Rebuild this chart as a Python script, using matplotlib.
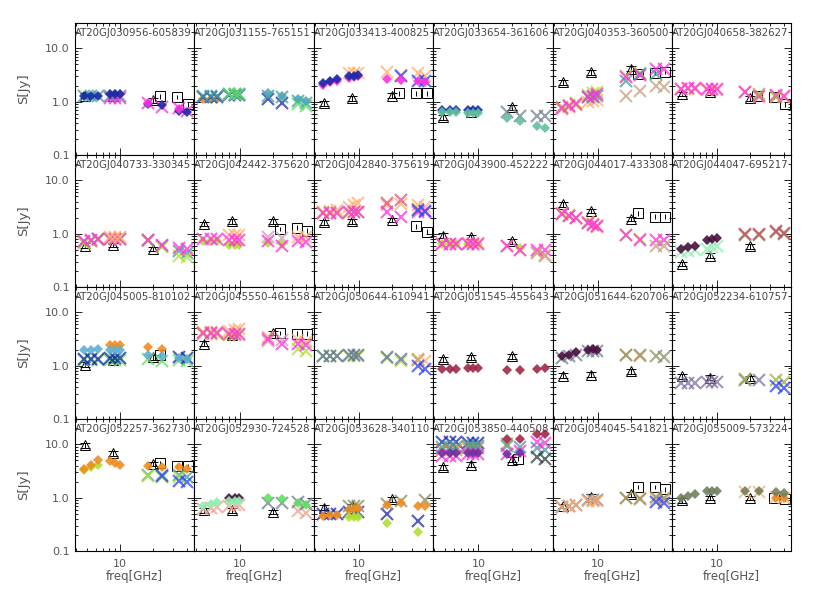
import numpy as np
import matplotlib
matplotlib.use('Agg')
import matplotlib.pyplot as plt
from matplotlib.ticker import NullFormatter

N = None

# ---------------------------------------------------------------
# frequencies (GHz)
# ---------------------------------------------------------------
freq = [4.7, 5.5, 6.3, 8.1, 9.0, 9.9, 18, 24, 34, 40]   # ATCA monitoring
freq_at20g = [4.8, 8.6, 20]                             # AT20G (triangles)
freq_wmap = [23, 33, 41]                                # WMAP (squares)

names = [
    'AT20GJ030956-605839', 'AT20GJ031155-765151', 'AT20GJ033413-400825',
    'AT20GJ033654-361606', 'AT20GJ040353-360500', 'AT20GJ040658-382627',
    'AT20GJ040733-330345', 'AT20GJ042442-375620', 'AT20GJ042840-375619',
    'AT20GJ043900-452222', 'AT20GJ044017-433308', 'AT20GJ044047-695217',
    'AT20GJ045005-810102', 'AT20GJ045550-461558', 'AT20GJ050644-610941',
    'AT20GJ051545-455643', 'AT20GJ051644-620706', 'AT20GJ052234-610757',
    'AT20GJ052257-362730', 'AT20GJ052930-724528', 'AT20GJ053628-340110',
    'AT20GJ053850-440508', 'AT20GJ054045-541821', 'AT20GJ055009-573224',
]

# AT20G flux densities at 4.8, 8.6, 20 GHz (Jy)
tri_flux = [
    [1.3, 1.3, 1.07], None, [0.94, 1.15, 1.3],
    [0.51, 0.65, 0.78], [2.3, 3.55, 4.2], [1.4, 1.5, 1.15],
    [0.6, 0.62, 0.52], [1.54, 1.7, 1.7], [1.63, 1.7, 1.83],
    [0.92, 0.87, 0.72], [3.6, 2.7, 1.9], [0.27, 0.39, 0.58],
    [1.05, 1.3, 1.45], [2.6, 3.7, 4.1], None,
    [1.33, 1.45, 1.5], [0.65, 0.68, 0.78], [0.63, 0.6, 0.58],
    [9.6, 6.8, 4.3], [0.58, 0.58, 0.54], [0.65, 0.7, 0.93],
    [3.7, 4.2, 5.2], [0.7, 1.05, 1.15], [0.9, 1.0, 1.0],
]

# WMAP flux densities at 23, 33, 41 GHz (Jy)
sq_flux = [
    [1.26, 1.24, 0.9], None, [1.43, 1.43, 1.43],
    None, [3.3, 3.5, 3.65], [1.3, 1.25, 0.9],
    None, [1.24, 1.3, 1.14], [N, 1.37, 1.1],
    None, [2.43, 2.1, 2.1], None,
    [1.6, N, N], [4.1, 4.0, 4.0], None,
    None, None, None,
    [4.5, 3.95, 3.95], None, None,
    [5.4, N, N], [1.6, 1.6, 1.45], [N, 0.97, 0.95],
]

# colour keys
pal = {
    'navy': '#1a2aa8', 'blue': '#2a40ff', 'mag': '#ff30e0', 'teal': '#40a0a0',
    'sky': '#60b0d0', 'lime': '#b0e030', 'green': '#60e060', 'orange': '#f08c20',
    'lorange': '#ffb070', 'tan': '#c8a080', 'gray': '#708090', 'olive': '#8a9060',
    'crimson': '#a02848', 'purple': '#4a1040', 'mint': '#90f0b0', 'salmon': '#f0a090',
    'rose': '#e05080', 'sea': '#60c0a0', 'slate': '#6070a0', 'dark': '#304040',
    'violet': '#7030a0', 'ogray': '#708060', 'pinkgray': '#d0a0b0', 'redrose': '#c05060',
    'tblue': '#50a8b8', 'olime': '#a0b040', 'gpurple': '#8070a0',
}

# ATCA monitoring: (marker, colour key, flux at freq)
series = [
    [('x', 'teal', [1.3, 1.3, 1.3, 1.3, 1.3, 1.3, N, N, N, N]),
     ('x', 'mag', [N, N, N, 1.15, 1.15, 1.15, 0.93, 0.78, 0.75, 0.67]),
     ('D', 'navy', [1.3, 1.3, 1.3, 1.38, 1.38, 1.38, 0.9, 0.87, 0.68, 0.63]),
     ('D', 'mag', [N, N, N, N, N, N, 0.95, N, 0.73, N])],
    [('D', 'orange', [1.12, 1.12, 1.12, N, N, N, N, N, N, N]),
     ('x', 'navy', [1.25, 1.25, 1.25, 1.35, 1.35, 1.35, 1.12, 0.95, N, N]),
     ('x', 'teal', [1.28, 1.28, 1.28, 1.42, 1.42, 1.42, 1.3, 1.2, 1.05, 0.95]),
     ('x', 'green', [N, N, N, 1.38, 1.38, 1.38, N, N, 0.9, 0.82]),
     ('D', 'tblue', [N, N, N, N, N, N, 1.45, 1.3, 1.12, 1.05])],
    [('x', 'lorange', [N, N, N, 3.4, 3.4, 3.4, 3.65, 3.15, 3.45, 3.07]),
     ('x', 'blue', [N, N, N, N, N, N, N, 3.07, 2.5, 2.5]),
     ('D', 'mag', [2.1, 2.3, 2.5, 2.8, 2.9, 3.0, 2.66, 2.55, 2.5, 2.3]),
     ('D', 'navy', [2.24, 2.45, 2.66, 2.98, 3.1, 3.2, N, N, N, N])],
    [('x', 'gray', [N, N, N, N, N, N, 0.63, 0.55, 0.55, 0.55]),
     ('D', 'navy', [0.7, 0.7, 0.7, 0.7, 0.7, 0.7, N, N, N, N]),
     ('D', 'sea', [0.63, 0.63, 0.63, 0.61, 0.61, 0.61, 0.49, 0.43, 0.355, 0.32])],
    [('x', 'lorange', [0.72, 0.78, 0.85, 1.0, 1.05, 1.1, N, N, N, N]),
     ('x', 'lime', [0.8, 0.88, 0.95, 1.35, 1.45, 1.55, 3.1, 3.4, N, N]),
     ('x', 'tan', [N, N, N, N, N, N, 1.3, 1.6, 1.95, 1.9]),
     ('x', 'teal', [N, N, N, 1.2, 1.25, 1.3, 2.47, 3.3, 3.3, N]),
     ('x', 'mag', [0.76, 0.83, 0.9, 1.2, 1.3, 1.4, 2.86, 3.15, 4.2, 4.2])],
    [('x', 'lorange', [1.7, 1.72, 1.75, 1.65, 1.65, 1.65, 1.5, 1.25, 1.3, 1.25]),
     ('x', 'mag', [1.75, 1.78, 1.8, 1.73, 1.73, 1.73, 1.54, 1.3, 1.33, 1.3]),
     ('x', 'olime', [N, N, N, N, N, N, N, 1.4, 1.2, N])],
    [('x', 'teal', [0.7, 0.74, 0.78, 0.78, 0.78, 0.78, 0.75, 0.6, 0.47, 0.43]),
     ('x', 'lime', [0.68, 0.72, 0.76, 0.8, 0.8, 0.8, 0.73, 0.57, 0.38, 0.37]),
     ('x', 'mag', [0.72, 0.76, 0.79, 0.79, 0.79, 0.79, 0.77, 0.62, 0.55, 0.52]),
     ('x', 'lorange', [N, N, N, 0.88, 0.88, 0.88, N, N, N, N])],
    [('D', 'lime', [0.72, 0.72, 0.72, 0.62, 0.62, 0.62, 0.67, 0.64, N, N]),
     ('x', 'lorange', [N, N, N, 0.96, 0.96, 0.96, N, N, 0.87, 0.85]),
     ('x', 'pinkgray', [N, N, N, N, N, N, 0.87, 0.83, N, N]),
     ('x', 'mag', [0.79, 0.79, 0.79, 0.75, 0.75, 0.75, 0.72, 0.58, 0.72, 0.7])],
    [('x', 'lorange', [2.6, 2.7, 2.8, 3.2, 3.5, 3.8, 3.5, 3.6, 3.5, 3.2]),
     ('x', 'lime', [2.4, 2.45, 2.5, 2.5, 2.55, 2.6, N, N, 2.9, N]),
     ('x', 'rose', [N, N, N, N, N, N, 3.8, 4.3, N, N]),
     ('x', 'mag', [2.5, 2.5, 2.5, 2.6, 2.6, 2.6, 2.6, 2.1, 2.6, 2.6]),
     ('x', 'blue', [N, N, N, N, N, N, N, N, 2.8, 2.7])],
    [('D', 'lime', [0.64, 0.64, 0.64, 0.64, 0.64, 0.64, N, 0.55, N, N]),
     ('x', 'lorange', [0.65, 0.65, 0.65, 0.66, 0.66, 0.66, 0.58, 0.5, 0.45, 0.4]),
     ('x', 'mag', [0.64, 0.64, 0.64, 0.64, 0.64, 0.64, 0.6, 0.5, 0.5, 0.5]),
     ('x', 'tan', [N, N, N, N, N, N, N, N, 0.43, 0.39])],
    [('x', 'lime', [2.4, 2.2, 2.0, 1.6, 1.5, 1.4, 0.95, 0.8, N, N]),
     ('x', 'lorange', [2.3, 2.15, 1.95, 1.65, 1.5, 1.35, N, N, N, N]),
     ('x', 'mag', [2.34, 2.15, 1.97, 1.58, 1.47, 1.37, 0.93, 0.77, 0.77, 0.75]),
     ('x', 'tan', [N, N, N, N, N, N, N, N, 0.6, 0.58])],
    [('x', 'mint', [0.46, 0.48, 0.5, 0.52, 0.56, 0.6, N, N, N, N]),
     ('D', 'purple', [0.52, 0.56, 0.6, 0.75, 0.79, 0.83, N, N, N, N]),
     ('x', 'olive', [N, N, N, N, N, N, 0.93, 0.93, 1.06, 1.0]),
     ('x', 'redrose', [N, N, N, N, N, N, 0.98, 0.98, 1.12, 1.05])],
    [('x', 'green', [1.3, 1.3, 1.3, 1.3, 1.3, 1.3, 1.33, 1.25, 1.3, 1.25]),
     ('x', 'navy', [1.35, 1.35, 1.35, 1.4, 1.4, 1.4, N, N, 1.45, 1.4]),
     ('D', 'orange', [N, N, N, 2.5, 2.5, 2.5, 2.2, 2.05, N, N]),
     ('D', 'sky', [2.0, 2.0, 2.05, 2.0, 2.0, 2.0, 1.6, 1.55, 1.4, 1.35])],
    [('x', 'lorange', [4.3, 4.3, 4.3, 4.4, 4.6, 4.9, 3.5, N, 3.0, 2.8]),
     ('x', 'pinkgray', [N, N, N, N, N, N, 2.9, 3.0, N, N]),
     ('x', 'lime', [4.0, 4.0, 4.0, 3.8, 3.8, 3.8, N, N, 2.1, 1.9]),
     ('x', 'mag', [4.1, 4.1, 4.1, 4.0, 4.0, 4.0, 3.2, 2.6, 2.6, 2.4])],
    [('x', 'lime', [1.5, 1.5, 1.5, 1.55, 1.55, 1.55, 1.42, 1.25, 1.35, N]),
     ('x', 'slate', [1.5, 1.5, 1.5, 1.6, 1.6, 1.6, 1.45, 1.33, 1.3, N]),
     ('x', 'lorange', [N, N, N, N, N, N, N, N, 1.3, 1.2]),
     ('x', 'blue', [N, N, N, N, N, N, N, N, 1.0, 0.87])],
    [('D', 'crimson', [0.87, 0.87, 0.87, 0.9, 0.9, 0.9, 0.82, 0.84, 0.87, 0.9])],
    [('x', 'gray', [1.4, 1.5, 1.6, 1.85, 1.85, 1.85, N, N, N, N]),
     ('x', 'lorange', [N, N, N, N, N, N, 1.6, 1.5, N, N]),
     ('x', 'olive', [N, N, N, N, N, N, 1.6, 1.56, 1.5, 1.45]),
     ('D', 'purple', [1.5, 1.62, 1.78, 2.0, 2.05, 2.0, N, N, N, N])],
    [('x', 'gpurple', [0.48, 0.48, 0.48, 0.5, 0.5, 0.5, 0.55, 0.53, N, N]),
     ('x', 'olime', [N, N, N, N, N, N, 0.56, N, 0.53, 0.5]),
     ('x', 'blue', [N, N, N, N, N, N, N, N, 0.41, 0.38])],
    [('x', 'teal', [N, N, N, N, N, N, 2.65, 2.7, 2.65, 2.5]),
     ('x', 'lime', [N, N, N, N, N, N, 2.6, 2.5, 2.5, N]),
     ('x', 'blue', [N, N, N, N, N, N, N, 2.6, 2.1, 2.0]),
     ('D', 'lime', [3.3, 3.7, 4.2, N, N, N, N, N, N, N]),
     ('D', 'orange', [3.5, 4.2, 5.0, 4.9, 4.5, 4.1, 3.9, 3.8, 3.7, 3.5])],
    [('x', 'salmon', [0.62, 0.65, 0.68, 0.7, 0.72, 0.72, N, N, 0.56, 0.52]),
     ('x', 'gray', [N, N, N, N, N, N, 0.8, 0.8, 0.82, 0.76]),
     ('D', 'purple', [N, N, N, 0.97, 0.97, 0.97, N, N, N, N]),
     ('D', 'mint', [0.7, 0.76, 0.83, 0.87, 0.88, 0.88, N, N, N, N]),
     ('D', 'green', [N, N, N, N, N, N, 0.97, 0.93, 0.78, 0.72])],
    [('x', 'navy', [0.5, 0.5, 0.5, 0.55, 0.55, 0.55, 0.5, N, 0.37, N]),
     ('x', 'olive', [N, N, N, 0.7, 0.7, 0.7, 0.75, 0.87, N, 0.9]),
     ('D', 'orange', [0.45, 0.47, 0.48, 0.6, 0.62, 0.64, 0.72, 0.8, 0.7, 0.7]),
     ('D', 'lime', [N, N, N, 0.44, 0.44, 0.44, 0.34, N, 0.23, N])],
    [('x', 'navy', [11, 11, 11, 10.5, 10.5, 10.5, N, N, N, N]),
     ('x', 'orange', [8.0, 8.0, 8.0, 8.5, 8.5, 8.5, 10, N, N, N]),
     ('x', 'teal', [9.0, 9.0, 9.0, 9.2, 9.2, 9.2, 9.2, 9.0, 8.4, 8.0]),
     ('x', 'mag', [6.0, 6.0, 6.0, 6.5, 6.5, 6.5, 6.5, 7.5, 11, 10.5]),
     ('x', 'dark', [N, N, N, N, N, N, N, N, 5.8, 5.3]),
     ('D', 'violet', [6.8, 6.8, 6.8, 7.0, 7.0, 7.0, 6.5, 6.8, N, N]),
     ('D', 'crimson', [N, N, N, N, N, N, 12.6, 12.6, 15.5, 15.5])],
    [('x', 'slate', [0.66, 0.7, 0.72, 0.9, 0.9, 0.9, N, N, N, N]),
     ('x', 'lorange', [0.68, 0.7, 0.72, 0.88, 0.88, 0.88, 0.97, 0.97, 0.93, 0.92]),
     ('x', 'olive', [N, N, N, N, N, N, 0.97, 0.95, 1.05, 0.97]),
     ('x', 'blue', [N, N, N, N, N, N, N, N, 0.83, 0.8])],
    [('x', 'lorange', [N, N, N, N, N, N, 1.3, 1.3, 1.05, 1.0]),
     ('D', 'orange', [N, N, N, N, N, N, N, N, 1.0, 0.97]),
     ('D', 'ogray', [1.0, 1.08, 1.17, 1.33, 1.33, 1.33, 1.33, 1.33, 1.28, 1.23])],
]

# ---------------------------------------------------------------
# figure layout (pixel based, 814 x 599)
# ---------------------------------------------------------------
W, H = 814, 599
left, top, pw, ph = 75, 23, 119.4, 132
txt = '#555555'

fig = plt.figure(figsize=(W / 100, H / 100), dpi=100)

for i, name in enumerate(names):
    r, c = divmod(i, 6)
    ax = fig.add_axes([(left + c * pw) / W, 1 - (top + (r + 1) * ph) / H, pw / W, ph / H])
    ax.set_xscale('log')
    ax.set_yscale('log')
    ax.set_xlim(3.9, 47)
    ax.set_ylim(0.1, 30)

    # AT20G triangles and WMAP squares
    if tri_flux[i] is not None:
        t = np.array(tri_flux[i], dtype=float)
        ax.errorbar(freq_at20g, t, yerr=0.1 * t, fmt='^', mfc='none', mec='k', ecolor='k',
                    ms=7, mew=0.7, elinewidth=0.7, capsize=3.5, capthick=0.7, zorder=2)
    if sq_flux[i] is not None:
        s = np.array(sq_flux[i], dtype=float)
        ax.errorbar(freq_wmap, s, yerr=0.1 * s, fmt='s', mfc='none', mec='k', ecolor='k',
                    ms=6.5, mew=0.7, elinewidth=0.7, zorder=2)

    # ATCA monitoring epochs
    for mk, ck, vals in series[i]:
        v = np.array(vals, dtype=float)
        if mk == 'x':
            ax.plot(freq, v, ls='none', marker='x', color=pal[ck], ms=8, mew=1.5,
                    alpha=0.75, zorder=3)
        else:
            ax.plot(freq, v, ls='none', marker='D', color=pal[ck], ms=5.5, mew=0,
                    alpha=0.9, zorder=3)

    # ticks
    ax.set_xticks([10])
    ax.set_xticks([4, 5, 6, 7, 8, 9, 20, 30, 40], minor=True)
    ax.set_yticks([0.1, 1, 10])
    ax.set_yticks([k * d for d in (0.1, 1, 10) for k in range(2, 10) if k * d < 30], minor=True)
    ax.xaxis.set_minor_formatter(NullFormatter())
    ax.yaxis.set_minor_formatter(NullFormatter())
    ax.tick_params(which='both', direction='in', top=True, right=True, width=0.6,
                   labelsize=8, labelcolor=txt)
    ax.tick_params(which='major', length=5)
    ax.tick_params(which='minor', length=2.5)
    ax.tick_params(axis='y', pad=4)
    ax.tick_params(axis='x', pad=6)

    if c == 0:
        ax.set_yticklabels(['0.1', '1.0', '10.0'])
        ax.set_ylabel('S[Jy]', fontsize=9.5, color=txt)
        ax.yaxis.set_label_coords(-45 / pw, 0.5)
    else:
        ax.set_yticklabels([])
    if r == 3:
        ax.set_xticklabels(['10'])
        ax.set_xlabel('freq[GHz]', fontsize=8.5, color=txt)
        ax.xaxis.set_label_coords(0.5, -19 / ph)
    else:
        ax.set_xticklabels([])

    for sp in ax.spines.values():
        sp.set_linewidth(0.8)

    ax.text(0.0, 1 - 5 / ph, name, transform=ax.transAxes, ha='left', va='top',
            fontsize=7.3, color='#444444', clip_on=False, zorder=5)

fig.savefig('out.png', dpi=100)
